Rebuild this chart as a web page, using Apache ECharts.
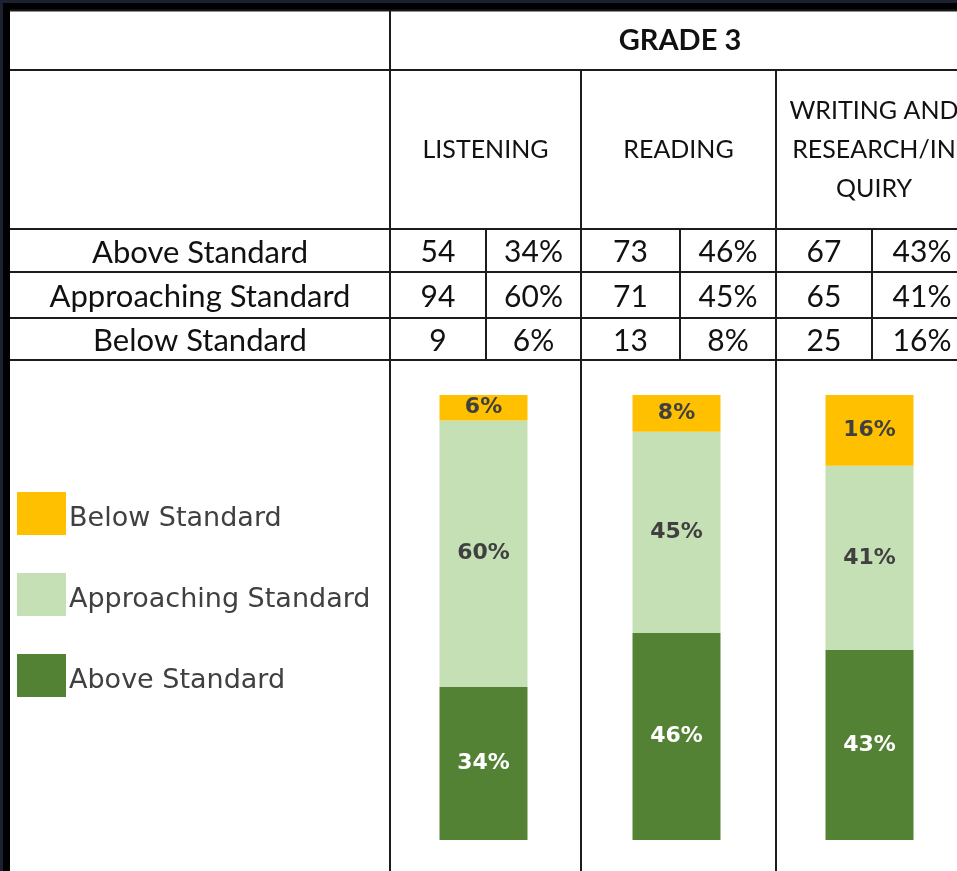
<!DOCTYPE html>
<html>
<head>
<meta charset="utf-8">
<script src="https://cdn.jsdelivr.net/npm/echarts@6/dist/echarts.min.js"></script>
<style>
  html, body { margin: 0; padding: 0; background: #ffffff; overflow: hidden; }
  #chart { width: 972px; height: 871px; }
</style>
</head>
<body>
<div id="chart"></div>
<script>
const gradeTitle = 'GRADE 3';
const subjects = ['LISTENING', 'READING', 'WRITING AND\nRESEARCH/IN\nQUIRY'];
const levels = ['Above Standard', 'Approaching Standard', 'Below Standard'];
const aboveCount = [54, 73, 67];
const approachingCount = [94, 71, 65];
const belowCount = [9, 13, 25];
const abovePct = [34, 46, 43];
const approachingPct = [60, 45, 41];
const belowPct = [6, 8, 16];

const chart = echarts.init(document.getElementById('chart'));

// share of each subject's students, so every bar fills 100%
const totals = subjects.map((s, i) => aboveCount[i] + approachingCount[i] + belowCount[i]);
const share = counts => counts.map((c, i) => c / totals[i] * 100);

// table layout (the page cuts the last column at 957px)
const colX = [390, 486, 581, 680, 776, 872, 972];
const rowY = [229, 272, 318, 360];
const ink = '#111111';
const tableFont = 'Lato, sans-serif';
const graphic = [];

const rect = (x, y, w, h, fill) => graphic.push({ type: 'rect', shape: { x, y, width: w, height: h }, style: { fill }, silent: true });
const hline = (y, x1, x2) => graphic.push({ type: 'line', shape: { x1, y1: y, x2, y2: y }, style: { stroke: '#1c1c1c', lineWidth: 2 }, silent: true });
const vline = (x, y1, y2) => graphic.push({ type: 'line', shape: { x1: x, y1, x2: x, y2 }, style: { stroke: '#1c1c1c', lineWidth: 2 }, silent: true });
const text = (str, x, y, size, weight) => graphic.push({
  type: 'text', x, y, silent: true,
  style: {
    text: str, fill: ink, fontFamily: tableFont, fontSize: size, fontWeight: weight || 'normal',
    lineHeight: 39, textAlign: 'center', textVerticalAlign: 'middle'
  }
});

// dark frame at top and left
rect(0, 0, 972, 10, '#1b2132');
rect(0, 0, 10, 871, '#1b2132');
rect(3, 3, 969, 7, '#000');
rect(3, 3, 7, 868, '#000');
hline(10.5, 10, 972);

hline(70, 10, 972);
rowY.forEach(y => hline(y, 10, 972));
vline(390, 10, 871);
vline(581, 70, 871);
vline(776, 70, 871);
[486, 680, 872].forEach(x => vline(x, rowY[0], rowY[3]));

text(gradeTitle, 680, 41, 29, 'bold');
subjects.forEach((s, i) => text(s, (colX[i * 2] + colX[i * 2 + 2]) / 2, 150, 25));

const rows = [
  [aboveCount, abovePct],
  [approachingCount, approachingPct],
  [belowCount, belowPct]
];
rows.forEach((r, k) => {
  const y = (rowY[k] + rowY[k + 1]) / 2 + 2;
  text(levels[k], 200, y, 31);
  subjects.forEach((s, i) => {
    text(String(r[0][i]), (colX[i * 2] + colX[i * 2 + 1]) / 2, y, 30);
    text(r[1][i] + '%', (colX[i * 2 + 1] + colX[i * 2 + 2]) / 2, y, 30);
  });
});

const labelFont = { fontFamily: 'DejaVu Sans', fontSize: 22, fontWeight: 'bold', color: '#404040' };

chart.setOption({
  backgroundColor: '#ffffff',
  animation: false,
  graphic: graphic,
  legend: {
    orient: 'vertical',
    left: 17,
    top: 492,
    padding: 0,
    itemWidth: 49,
    itemHeight: 43,
    itemGap: 38,
    icon: 'rect',
    data: ['Below Standard', 'Approaching Standard', 'Above Standard'],
    formatter: name => '{t|' + name + '}',
    textStyle: {
      rich: {
        t: { fontFamily: 'DejaVu Sans', fontSize: 27, color: '#404040', padding: [10, 0, 0, -2] }
      }
    }
  },
  grid: { left: 387, top: 395, width: 579, height: 445 },
  xAxis: {
    type: 'category',
    data: subjects,
    show: false
  },
  yAxis: {
    type: 'value',
    min: 0,
    max: 100,
    show: false
  },
  series: [
    {
      name: 'Above Standard',
      type: 'bar',
      stack: 'all',
      barWidth: 88,
      data: share(aboveCount),
      itemStyle: { color: '#548235' },
      label: { show: true, position: 'inside', ...labelFont, color: '#ffffff', formatter: p => abovePct[p.dataIndex] + '%' }
    },
    {
      name: 'Approaching Standard',
      type: 'bar',
      stack: 'all',
      barWidth: 88,
      data: share(approachingCount),
      itemStyle: { color: '#c5e0b4' },
      label: { show: true, position: 'inside', ...labelFont, formatter: p => approachingPct[p.dataIndex] + '%' }
    },
    {
      name: 'Below Standard',
      type: 'bar',
      stack: 'all',
      barWidth: 88,
      data: share(belowCount),
      itemStyle: { color: '#ffc000' },
      label: { show: true, position: 'inside', ...labelFont, formatter: p => belowPct[p.dataIndex] + '%' }
    }
  ]
});
</script>
</body>
</html>
